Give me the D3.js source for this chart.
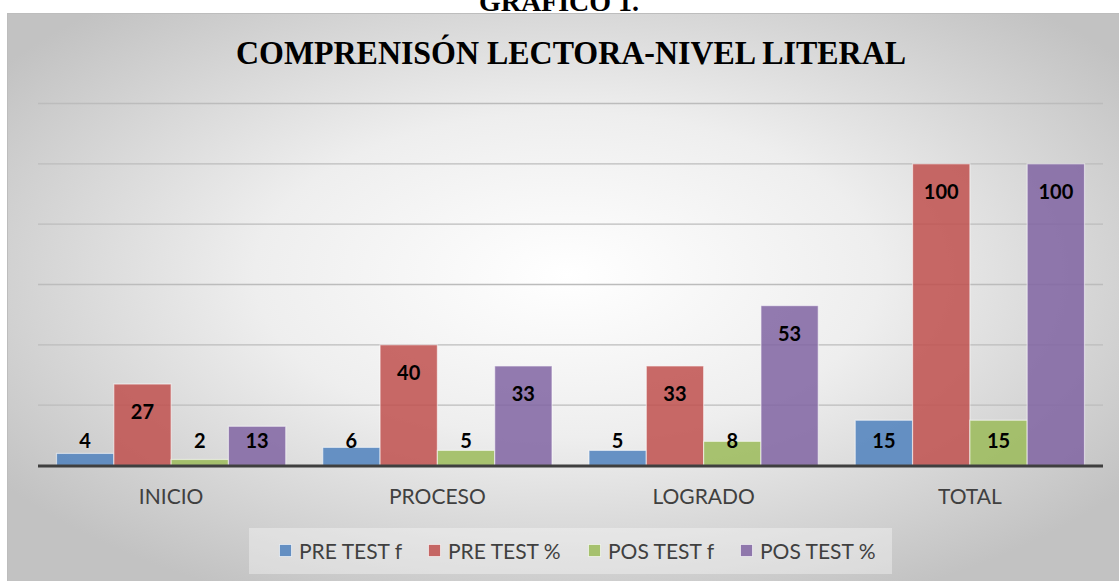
<!DOCTYPE html>
<html>
<head>
<meta charset="utf-8">
<script src="https://cdn.jsdelivr.net/npm/d3@7"></script>
<style>
  body { margin: 0; background: #fff; }
  svg { display: block; }
</style>
</head>
<body>
<script>
// data
let categories = ['INICIO', 'PROCESO', 'LOGRADO', 'TOTAL']
let seriesNames = ['PRE TEST f', 'PRE TEST %', 'POS TEST f', 'POS TEST %']
let preTestF = [4, 6, 5, 15]
let preTestPct = [27, 40, 33, 100]
let posTestF = [2, 5, 8, 15]
let posTestPct = [13, 33, 53, 100]
let gridTicks = [20, 40, 60, 80, 100, 120]

let colors = ['#4f81bd', '#c0504d', '#9bbb59', '#8064a2']
let seriesValues = [preTestF, preTestPct, posTestF, posTestPct]

let width = 1119
let height = 581

let svg = d3.select('body').append('svg')
    .attr('width', width)
    .attr('height', height)

let defs = svg.append('defs')
let grad = defs.append('radialGradient')
    .attr('id', 'bg')
    .attr('cx', '50%').attr('cy', '45%').attr('r', '62%')
grad.append('stop').attr('offset', '0%').attr('stop-color', '#ffffff')
grad.append('stop').attr('offset', '45%').attr('stop-color', '#eeeeee')
grad.append('stop').attr('offset', '100%').attr('stop-color', '#c2c2c2')

// caption above the chart (cut by the frame)
svg.append('text')
    .attr('x', 559)
    .attr('y', 11)
    .attr('text-anchor', 'middle')
    .style('font-family', '"Liberation Serif", "Times New Roman", serif')
    .style('font-weight', 'bold')
    .style('font-size', '28px')
    .text('GRAFICO 1.')

// chart area
svg.append('rect')
    .attr('x', 7.5).attr('y', 13.5)
    .attr('width', width).attr('height', height)
    .attr('fill', 'url(#bg)')
    .attr('stroke', '#bdbdbd')

svg.append('text')
    .attr('x', 571)
    .attr('y', 64)
    .attr('text-anchor', 'middle')
    .attr('textLength', 670)
    .attr('lengthAdjust', 'spacingAndGlyphs')
    .style('font-family', '"Liberation Serif", "Times New Roman", serif')
    .style('font-weight', 'bold')
    .style('font-size', '33px')
    .text('COMPRENISÓN LECTORA-NIVEL LITERAL')

// scales
let xScale = d3.scaleBand()
    .domain(categories)
    .range([38, 1103])

let innerScale = d3.scaleBand()
    .domain(d3.range(seriesNames.length))
    .range([18.5, xScale.bandwidth() - 18.5])

let yScale = d3.scaleLinear()
    .domain([0, 120])
    .range([465.5, 103.5])

// gridlines
svg.append('g')
    .selectAll('line')
    .data(gridTicks)
    .enter()
    .append('line')
    .attr('x1', 38).attr('x2', 1103)
    .attr('y1', d => yScale(d)).attr('y2', d => yScale(d))
    .attr('stroke', '#bcbcbc')
    .attr('stroke-width', 1.3)

// bars
let rows = []
categories.forEach((c, i) => {
    seriesValues.forEach((s, j) => {
        rows.push({ cat: c, series: j, value: s[i] })
    })
})

svg.append('g')
    .selectAll('rect')
    .data(rows)
    .enter()
    .append('rect')
    .attr('x', d => xScale(d.cat) + innerScale(d.series))
    .attr('y', d => yScale(d.value))
    .attr('width', innerScale.bandwidth())
    .attr('height', d => yScale(0) - yScale(d.value))
    .attr('fill', d => colors[d.series])
    .attr('fill-opacity', 0.85)
    .attr('stroke', 'rgba(255,255,255,0.55)')
    .attr('stroke-width', 1.2)

// baseline
svg.append('line')
    .attr('x1', 38).attr('x2', 1103)
    .attr('y1', yScale(0) + 0.5).attr('y2', yScale(0) + 0.5)
    .attr('stroke', '#3f3f3f')
    .attr('stroke-width', 3)

// data labels
svg.append('g')
    .selectAll('text')
    .data(rows)
    .enter()
    .append('text')
    .attr('x', d => xScale(d.cat) + innerScale(d.series) + innerScale.bandwidth() / 2)
    .attr('y', d => Math.min(yScale(d.value) + 28, yScale(0) - 25))
    .attr('dy', '0.36em')
    .attr('text-anchor', 'middle')
    .style('font-family', 'Lato, "Open Sans", sans-serif')
    .style('font-weight', 'bold')
    .style('font-size', '20px')
    .attr('fill', '#000')
    .text(d => d.value)

// category axis labels
svg.append('g')
    .selectAll('text')
    .data(categories)
    .enter()
    .append('text')
    .attr('x', d => xScale(d) + xScale.bandwidth() / 2)
    .attr('y', 496)
    .attr('dy', '0.36em')
    .attr('text-anchor', 'middle')
    .style('font-family', 'Lato, "Open Sans", sans-serif')
    .style('font-size', '21px')
    .attr('fill', '#404040')
    .text(d => d)

// legend
let legend = svg.append('g')
legend.append('rect')
    .attr('x', 249).attr('y', 528)
    .attr('width', 643).attr('height', 46)
    .attr('fill', 'rgba(255,255,255,0.35)')

let legendX = [279, 428, 588, 740]
seriesNames.forEach((name, i) => {
    legend.append('rect')
        .attr('x', legendX[i] + 0.5).attr('y', 544.5)
        .attr('width', 12).attr('height', 12)
        .attr('fill', colors[i])
        .attr('fill-opacity', 0.85)
        .attr('stroke', 'rgba(255,255,255,0.6)')
    legend.append('text')
        .attr('x', legendX[i] + 20)
        .attr('y', 551)
        .attr('dy', '0.36em')
        .style('font-family', 'Lato, "Open Sans", sans-serif')
        .style('font-size', '21px')
        .attr('fill', '#404040')
        .text(name)
})
</script>
</body>
</html>
